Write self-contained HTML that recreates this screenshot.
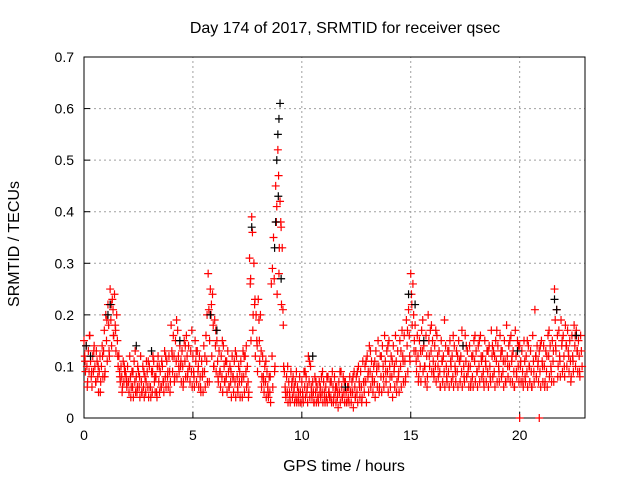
<!DOCTYPE html>
<html><head><meta charset="utf-8"><style>
body{margin:0;background:#fff}
svg text{font-family:"Liberation Sans",sans-serif;font-size:14px;fill:#000}
svg text.big{font-size:16px}
</style></head><body>
<svg id="c" width="640" height="480" viewBox="0 0 640 480">
<text class="big" x="345" y="33" text-anchor="middle">Day 174 of 2017, SRMTID for receiver qsec</text>
<text class="big" x="344" y="471" text-anchor="middle">GPS time / hours</text>
<text class="big" transform="translate(19,244) rotate(-90)" text-anchor="middle">SRMTID / TECUs</text>
<g id="grid"></g>
<g id="axes"></g>
<g id="red"></g>
<g id="black"></g>
</svg>
<script>
const xTicks=[0,5,10,15,20];
const yTicks=[0,0.1,0.2,0.3,0.4,0.5,0.6,0.7];
const yTickLabels=["0","0.1","0.2","0.3","0.4","0.5","0.6","0.7"];
const redStep=0.1;
const redVals=[
[.15,.12,.09],[.14,.10,.07],[.13,.09,.16],[.11,.08,.06],[.12,.09,.14],[.10,.07,.13],[.11,.08,.05],[.09,.12,.07],[.10,.14,.08],[.13,.17,.09],
[.20,.15,.11],[.22,.18,.12],[.25,.19,.14],[.23,.21,.16],[.24,.18,.13],[.20,.15,.10],[.12,.09,.07],[.10,.08,.06],[.11,.07,.09],[.09,.08,.06],
[.10,.07,.05],[.12,.08,.06],[.09,.06,.04],[.11,.07,.05],[.08,.05,.10],[.09,.06,.04],[.12,.07,.05],[.10,.06,.04],[.08,.05,.11],[.09,.06,.04],
[.10,.06,.04],[.09,.05,.12],[.11,.07,.05],[.08,.05,.10],[.12,.07,.05],[.09,.06,.11],[.10,.07,.05],[.13,.08,.06],[.11,.08,.06],[.12,.09,.07],
[.18,.13,.09],[.16,.12,.08],[.15,.11,.08],[.17,.12,.09],[.14,.10,.07],[.13,.10,.07],[.15,.11,.08],[.16,.12,.09],[.14,.10,.07],[.13,.09,.06],
[.12,.09,.06],[.15,.11,.07],[.13,.09,.06],[.12,.08,.05],[.11,.08,.05],[.14,.09,.06],[.16,.11,.07],[.28,.21,.15],[.25,.20,.12],[.24,.18,.10],
[.19,.14,.09],[.15,.11,.07],[.13,.09,.06],[.12,.08,.05],[.14,.10,.07],[.11,.08,.05],[.13,.09,.06],[.10,.07,.04],[.12,.08,.05],[.11,.07,.04],
[.12,.08,.05],[.10,.07,.04],[.11,.07,.04],[.13,.08,.05],[.12,.09,.06],[.10,.07,.05],[.31,.26,.15],[.39,.36,.20],[.30,.22,.12],[.20,.15,.09],
[.23,.19,.11],[.20,.13,.08],[.12,.08,.05],[.10,.07,.04],[.09,.06,.04],[.08,.05,.03],[.26,.12,.06],[.35,.27,.10],[.45,.38,.24],[.52,.47,.33],
[.42,.38,.22],[.33,.21,.10],[.09,.06,.04],[.08,.05,.03],[.07,.05,.03],[.09,.06,.04],[.08,.05,.03],[.07,.04,.03],[.06,.04,.03],[.08,.05,.03],
[.07,.05,.03],[.09,.06,.04],[.08,.05,.03],[.12,.07,.04],[.10,.06,.04],[.07,.05,.03],[.08,.05,.03],[.06,.04,.03],[.07,.05,.04],[.08,.05,.03],
[.07,.05,.03],[.06,.04,.03],[.08,.05,.04],[.07,.04,.03],[.09,.06,.04],[.08,.05,.03],[.06,.04,.02],[.07,.05,.03],[.09,.06,.04],[.08,.05,.03],
[.07,.05,.03],[.06,.04,.03],[.08,.05,.03],[.07,.05,.02],[.09,.06,.04],[.08,.05,.03],[.10,.07,.04],[.09,.06,.04],[.11,.07,.05],[.10,.07,.03],
[.12,.08,.05],[.14,.09,.06],[.11,.08,.05],[.10,.07,.04],[.13,.09,.06],[.15,.10,.06],[.12,.08,.05],[.14,.10,.06],[.16,.11,.07],[.13,.09,.05],
[.15,.10,.06],[.12,.08,.04],[.14,.09,.06],[.16,.11,.07],[.13,.08,.05],[.15,.10,.06],[.17,.12,.07],[.16,.11,.08],[.19,.14,.09],[.21,.16,.11],
[.28,.24,.18],[.26,.20,.15],[.18,.13,.09],[.16,.12,.08],[.15,.10,.07],[.17,.13,.09],[.14,.10,.07],[.16,.12,.08],[.20,.15,.10],[.17,.13,.09],
[.15,.11,.08],[.14,.10,.07],[.16,.12,.08],[.13,.09,.06],[.15,.11,.07],[.12,.09,.06],[.14,.10,.07],[.13,.09,.06],[.15,.11,.07],[.12,.08,.06],
[.14,.10,.07],[.13,.09,.06],[.15,.11,.07],[.12,.09,.06],[.14,.10,.07],[.16,.11,.08],[.13,.09,.06],[.14,.10,.07],[.12,.08,.06],[.15,.11,.07],
[.13,.09,.06],[.14,.10,.07],[.16,.12,.08],[.12,.09,.06],[.15,.11,.07],[.13,.09,.06],[.14,.10,.07],[.17,.12,.08],[.13,.09,.06],[.15,.11,.07],
[.14,.10,.07],[.16,.12,.08],[.13,.09,.06],[.15,.11,.07],[.18,.12,.08],[.14,.10,.07],[.16,.11,.07],[.13,.09,.06],[.17,.12,.08],[.15,.10,.07],
[.14,.10,.07],[.13,.09,.06],[.15,.11,.07],[.12,.09,.06],[.14,.10,.07],[.13,.09,.06],[.16,.11,.07],[.21,.12,.08],[.14,.10,.07],[.13,.09,.06],
[.15,.11,.07],[.14,.10,.07],[.13,.09,.06],[.16,.12,.08],[.14,.10,.07],[.15,.11,.07],[.25,.19,.13],[.21,.16,.10],[.17,.12,.08],[.19,.14,.09],
[.16,.12,.08],[.18,.14,.10],[.17,.13,.09],[.15,.11,.08],[.16,.12,.09],[.18,.14,.10],[.17,.13,.09],[.15,.12,.08],[.16,.13,.10]
];
const redStep2=0.2;
const redVals2=[
[.11,.06],[.16,.09],[.13,.07],[.10,.05],[.12,.08],
[.19,.13],[.22,.16],[.17,.12],[.08,.05],[.10,.07],
[.07,.04],[.09,.13],[.06,.08],[.05,.09],[.07,.11],
[.06,.09],[.08,.04],[.10,.06],[.07,.12],[.09,.05],
[.12,.07],[.19,.10],[.11,.06],[.14,.08],[.10,.17],
[.08,.13],[.10,.06],[.09,.12],[.20,.07],[.22,.10],
[.17,.08],[.09,.15],[.07,.11],[.06,.09],[.08,.13],
[.06,.09],[.08,.12],[.14,.04],[.27,.17],[.23,.14],
[.15,.06],[.07,.11],[.05,.08],[.29,.09],[.41,.28],
[.37,.18],[.05,.10],[.04,.07],[.06,.09],[.05,.03],
[.04,.09],[.06,.11],[.05,.03],[.07,.04],[.06,.09],
[.04,.08],[.05,.07],[.03,.06],[.05,.09],[.04,.07],
[.03,.06],[.05,.08],[.04,.09],[.06,.03],[.07,.11],
[.09,.13],[.07,.11],[.10,.05],[.12,.08],[.09,.14],
[.08,.11],[.10,.05],[.09,.13],[.11,.07],[.17,.12],
[.22,.13],[.11,.07],[.13,.19],[.10,.06],[.12,.18],
[.09,.17],[.10,.06],[.11,.19],[.08,.13],[.10,.16],
[.09,.12],[.11,.17],[.08,.14],[.10,.06],[.12,.16],
[.09,.15],[.11,.07],[.10,.13],[.08,.14],[.12,.17],
[.09,.13],[.11,.07],[.10,.15],[.12,.06],[.09,.14],
[.11,.07],[.08,.15],[.10,.06],[.09,.12],[.11,.14],
[.10,.06],[.12,.17],[.09,.13],[.14,.08],[.11,.15],
[.10,.14],[.12,.07],[.11,.16],[.13,.09]
];
const redExtraT=[20.0,20.9];
const redExtraV=[0,0];
const blackT=[9.0,8.95,8.9,8.85,8.92,8.8,9.05,8.75,1.2,1.1,0.1,0.3,2.4,5.8,6.1,7.7,14.9,15.2,15.6,17.4,19.9,21.6,21.7,22.6,3.1,4.4,12.0,10.5];
const blackV=[0.61,0.58,0.55,0.50,0.43,0.38,0.27,0.33,0.22,0.20,0.14,0.12,0.14,0.20,0.17,0.37,0.24,0.22,0.15,0.14,0.13,0.23,0.21,0.16,0.13,0.15,0.06,0.12];

const X0=84,X1=585,Y0=418,Y1=57,XMAX=23,YMAX=0.7;
const sx=v=>X0+v/XMAX*(X1-X0);
const sy=v=>Y0-v/YMAX*(Y0-Y1);
const NS="http://www.w3.org/2000/svg";
function mk(tag,attrs,parent){const e=document.createElementNS(NS,tag);for(const k in attrs)e.setAttribute(k,attrs[k]);parent.appendChild(e);return e;}
const grid=document.getElementById('grid'),axes=document.getElementById('axes');
xTicks.forEach(t=>{
  if(t>0){const g=mk('line',{x1:sx(t),x2:sx(t),y1:Y0,y2:Y1,stroke:'#a0a0a0','stroke-dasharray':'2,3'},grid);
  
  }
  const tk=mk('line',{x1:sx(t),x2:sx(t),y1:Y0,y2:Y0-6,stroke:'#000'},axes);
  
  
  const tx=mk('text',{x:sx(t),y:Y0+22,'text-anchor':'middle'},axes);tx.textContent=t;
  
  
});
yTicks.forEach((t,i)=>{
  if(t>0&&t<YMAX){const g=mk('line',{x1:X0,x2:X1,y1:sy(t),y2:sy(t),stroke:'#a0a0a0','stroke-dasharray':'2,3'},grid);
  
  }
  const tk=mk('line',{x1:X0,x2:X0+6,y1:sy(t),y2:sy(t),stroke:'#000'},axes);
  
  
  const tx=mk('text',{x:X0-10,y:sy(t)+5,'text-anchor':'end'},axes);tx.textContent=yTickLabels[i];
  
  
});
const frame=mk('rect',{x:X0,y:Y1,width:X1-X0,height:Y0-Y1,fill:'none',stroke:'#000'},axes);


function plus(g,t,v,col){
  const x=sx(t),y=sy(v);
  const p=mk('path',{d:`M${x-4},${y}H${x+4}M${x},${y-4}V${y+4}`,stroke:col,'stroke-width':1.2,fill:'none'},g);
  
  
}
const red=document.getElementById('red'),black=document.getElementById('black');
blackT.forEach((t,i)=>plus(black,t,blackV[i],'#000'));
redVals.forEach((trip,i)=>trip.forEach((v,j)=>plus(red,i*redStep+j*0.033,v,'#ff0000')));
redVals2.forEach((pair,i)=>pair.forEach((v,j)=>plus(red,i*redStep2+0.05+j*0.1,v,'#ff0000')));
redExtraT.forEach((t,i)=>plus(red,t,redExtraV[i],'#ff0000'));
</script>
</body></html>
